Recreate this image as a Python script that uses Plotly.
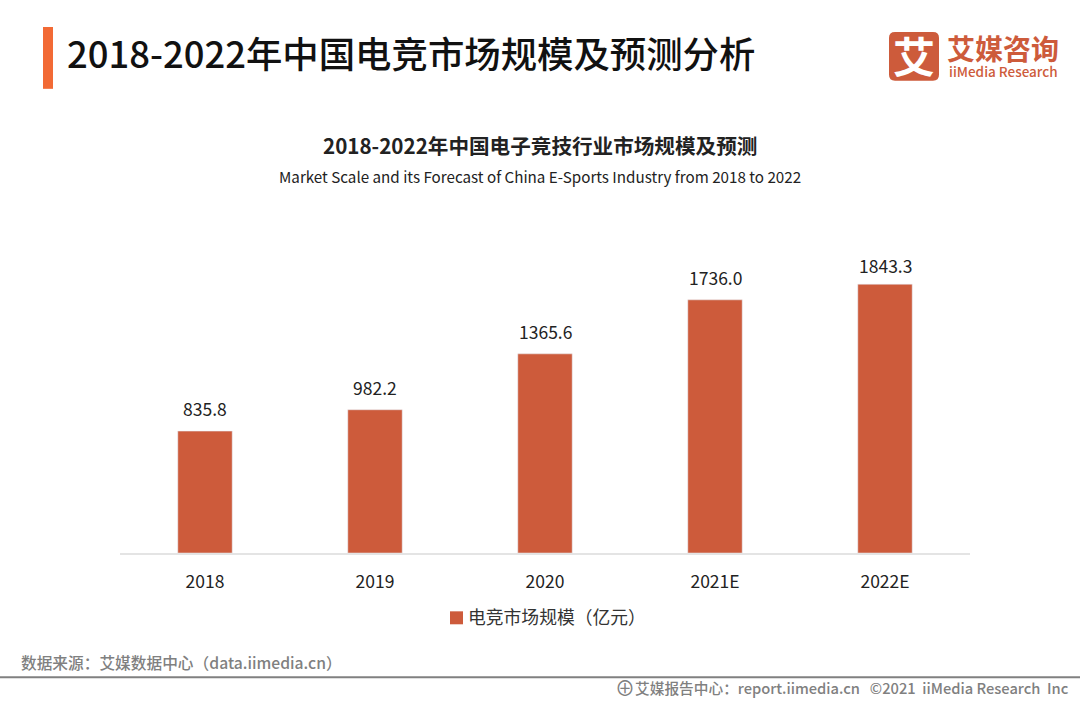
import plotly.graph_objects as go

years = ["2018", "2019", "2020", "2021E", "2022E"]
market_scale = [835.8, 982.2, 1365.6, 1736.0, 1843.3]
value_labels = ["835.8", "982.2", "1365.6", "1736.0", "1843.3"]
series_name = "电竞市场规模（亿元）"

CJK = "Noto Sans CJK SC"
BAR_COLOR = "#CD5B3B"

W, H = 1080, 702
L, R, T, B = 120, 970, 202.5, 553.5


# 像素坐标换算成 paper 坐标
def px_x(x):
    return (x - L) / (R - L)


def px_y(y):
    return (B - y) / (B - T)


def add_text(fig, x, y, text, size, color, anchor="left", weight=400, family=CJK):
    fig.add_annotation(x=px_x(x), y=px_y(y), xref="paper", yref="paper", text=text,
                       showarrow=False, xanchor=anchor, yanchor="middle",
                       font=dict(family=family, size=size, color=color, weight=weight))


def add_box(fig, x0, y0, x1, y1, color):
    fig.add_shape(type="rect", xref="paper", yref="paper", x0=px_x(x0), x1=px_x(x1),
                  y0=px_y(y0), y1=px_y(y1), fillcolor=color, line_width=0)


# logo 的圆角方块
def add_round_box(fig, x0, y0, x1, y1, r, color):
    pts = [(x0 + r, y0), (x1 - r, y0), (x1, y0), (x1, y0 + r), (x1, y1 - r), (x1, y1),
           (x1 - r, y1), (x0 + r, y1), (x0, y1), (x0, y1 - r), (x0, y0 + r), (x0, y0), (x0 + r, y0)]
    xy = [f"{px_x(a):.5f},{px_y(b):.5f}" for a, b in pts]
    path = (f"M{xy[0]} L{xy[1]} Q{xy[2]} {xy[3]} L{xy[4]} Q{xy[5]} {xy[6]} "
            f"L{xy[7]} Q{xy[8]} {xy[9]} L{xy[10]} Q{xy[11]} {xy[12]} Z")
    fig.add_shape(type="path", xref="paper", yref="paper", path=path, fillcolor=color, line_width=0)


fig = go.Figure(go.Bar(x=years, y=market_scale, name=series_name, marker_color=BAR_COLOR,
                       showlegend=False))

fig.update_layout(width=W, height=H, autosize=False, paper_bgcolor="white", plot_bgcolor="white",
                  margin=dict(l=L, r=W - R, t=T, b=H - B, pad=0), bargap=0.68,
                  font=dict(family=CJK, color="#222222"))
fig.update_xaxes(type="category", showline=True, linecolor="#E4E4E4", linewidth=1.5, ticks="",
                 showgrid=False, tickfont=dict(family=CJK, size=17.5, color="#222222"),
                 ticklabelstandoff=12)
fig.update_yaxes(range=[0, 2400], visible=False, showgrid=False)

# 数值标签，类别轴上 "2018" 会被当成序号，所以用下标定位
for i, (value, label) in enumerate(zip(market_scale, value_labels)):
    fig.add_annotation(x=i, y=value, text=label, showarrow=False, yanchor="bottom",
                       yshift=4 if i == len(years) - 1 else 8,
                       font=dict(family=CJK, size=17.5, color="#222222"))

# 图例
add_box(fig, 450, 612, 463, 625, BAR_COLOR)
add_text(fig, 466, 617, series_name, 17.8, "#333333")

# 顶部标题
add_box(fig, 43, 26, 53, 88, "#F26A35")
add_text(fig, 64.5, 51.5, "2018-2022年中国电竞市场规模及预测分析", 36.4, "#111111", weight=500)
add_text(fig, 540, 144, "2018-2022年中国电子竞技行业市场规模及预测", 20.6, "#222222", "center", 700)
add_text(fig, 540, 175, "Market Scale and its Forecast of China E-Sports Industry from 2018 to 2022",
         15.2, "#222222", "center")

# logo
add_round_box(fig, 889, 31, 939, 80, 6, BAR_COLOR)
add_text(fig, 914, 54, "艾", 42, "white", "center", 700)
add_text(fig, 945, 47, "艾媒咨询", 28, BAR_COLOR, weight=700)
add_text(fig, 947, 70, "iiMedia Research", 13.5, BAR_COLOR, weight=500)

# 底部
add_text(fig, 19, 663, "数据来源：艾媒数据中心（data.iimedia.cn）", 15.7, "#808080", weight=500)
add_box(fig, 0, 677, W, 679, "#808080")
add_text(fig, 1071, 688, "艾媒报告中心：report.iimedia.cn   ©2021  iiMedia Research  Inc", 14.7, "#808080",
         "right", 500)
add_text(fig, 625, 688, "⊕", 20, "#808080", "center")

# 去掉页面默认边距，图才能贴齐窗口
fig.write_html("out.html", config={"displayModeBar": False},
               post_script="document.body.style.margin='0';document.body.style.overflow='hidden';")
